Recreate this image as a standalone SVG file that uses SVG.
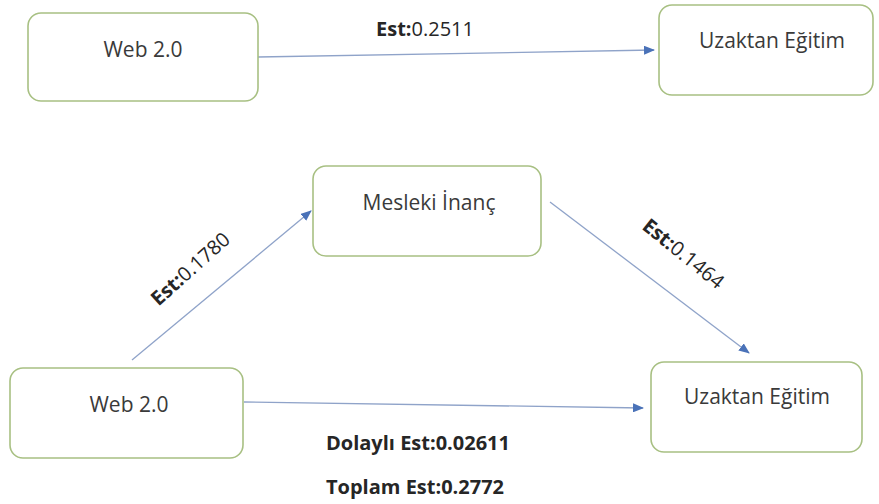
<svg xmlns="http://www.w3.org/2000/svg" width="879" height="504" viewBox="0 0 879 504">
<style>
.box{fill:#ffffff;stroke:#a8c083;stroke-width:1.6}
.t{font-family:"Open Sans","Liberation Sans",sans-serif;font-size:21px;fill:#3a3a3a;text-anchor:middle}
.lbl{font-family:"Open Sans","Liberation Sans",sans-serif;font-size:20px;fill:#262626}
.b{font-weight:bold}
.c{stroke:#8fa3c9;stroke-width:1.3;fill:none;marker-end:url(#ah)}
</style>
<defs>
<marker id="ah" markerWidth="11" markerHeight="9" refX="10" refY="4.5" orient="auto" markerUnits="userSpaceOnUse">
<path d="M0,0 L11,4.5 L0,9 Z" fill="#4a72b8"/>
</marker>
</defs>
<rect width="879" height="504" fill="#ffffff"/>
<g id="connectors">
<path class="c" d="M258,57 L654,50"/>
<path class="c" d="M132,360 L311,211"/>
<path class="c" d="M550,202 L749,353"/>
<path class="c" d="M244,402 L643,408"/>
</g>
<g id="labels">
<text class="lbl" x="376" y="36"><tspan class="b">Est:</tspan>0.2511</text>
<text class="lbl" transform="translate(195,274) rotate(-42)" text-anchor="middle"><tspan class="b">Est:</tspan>0.1780</text>
<text class="lbl" transform="translate(679,259) rotate(39)" text-anchor="middle"><tspan class="b">Est:</tspan>0.1464</text>
<text class="lbl b" x="326" y="450">Dolaylı Est:0.02611</text>
<text class="lbl b" x="326" y="494">Toplam Est:0.2772</text>
</g>
<g id="web1"><rect class="box" x="28" y="13" width="230" height="88" rx="13"/><text class="t" x="143" y="57">Web 2.0</text></g>
<g id="uzak1"><rect class="box" x="659" y="5" width="214" height="90" rx="13"/><text class="t" x="772" y="48">Uzaktan Eğitim</text></g>
<g id="mesleki"><rect class="box" x="313" y="166" width="228" height="90" rx="13"/><text class="t" x="429" y="210">Mesleki İnanç</text></g>
<g id="web2"><rect class="box" x="10" y="368" width="233" height="90" rx="13"/><text class="t" x="129" y="412">Web 2.0</text></g>
<g id="uzak2"><rect class="box" x="651" y="362" width="211" height="90" rx="13"/><text class="t" x="757" y="404">Uzaktan Eğitim</text></g>
</svg>
